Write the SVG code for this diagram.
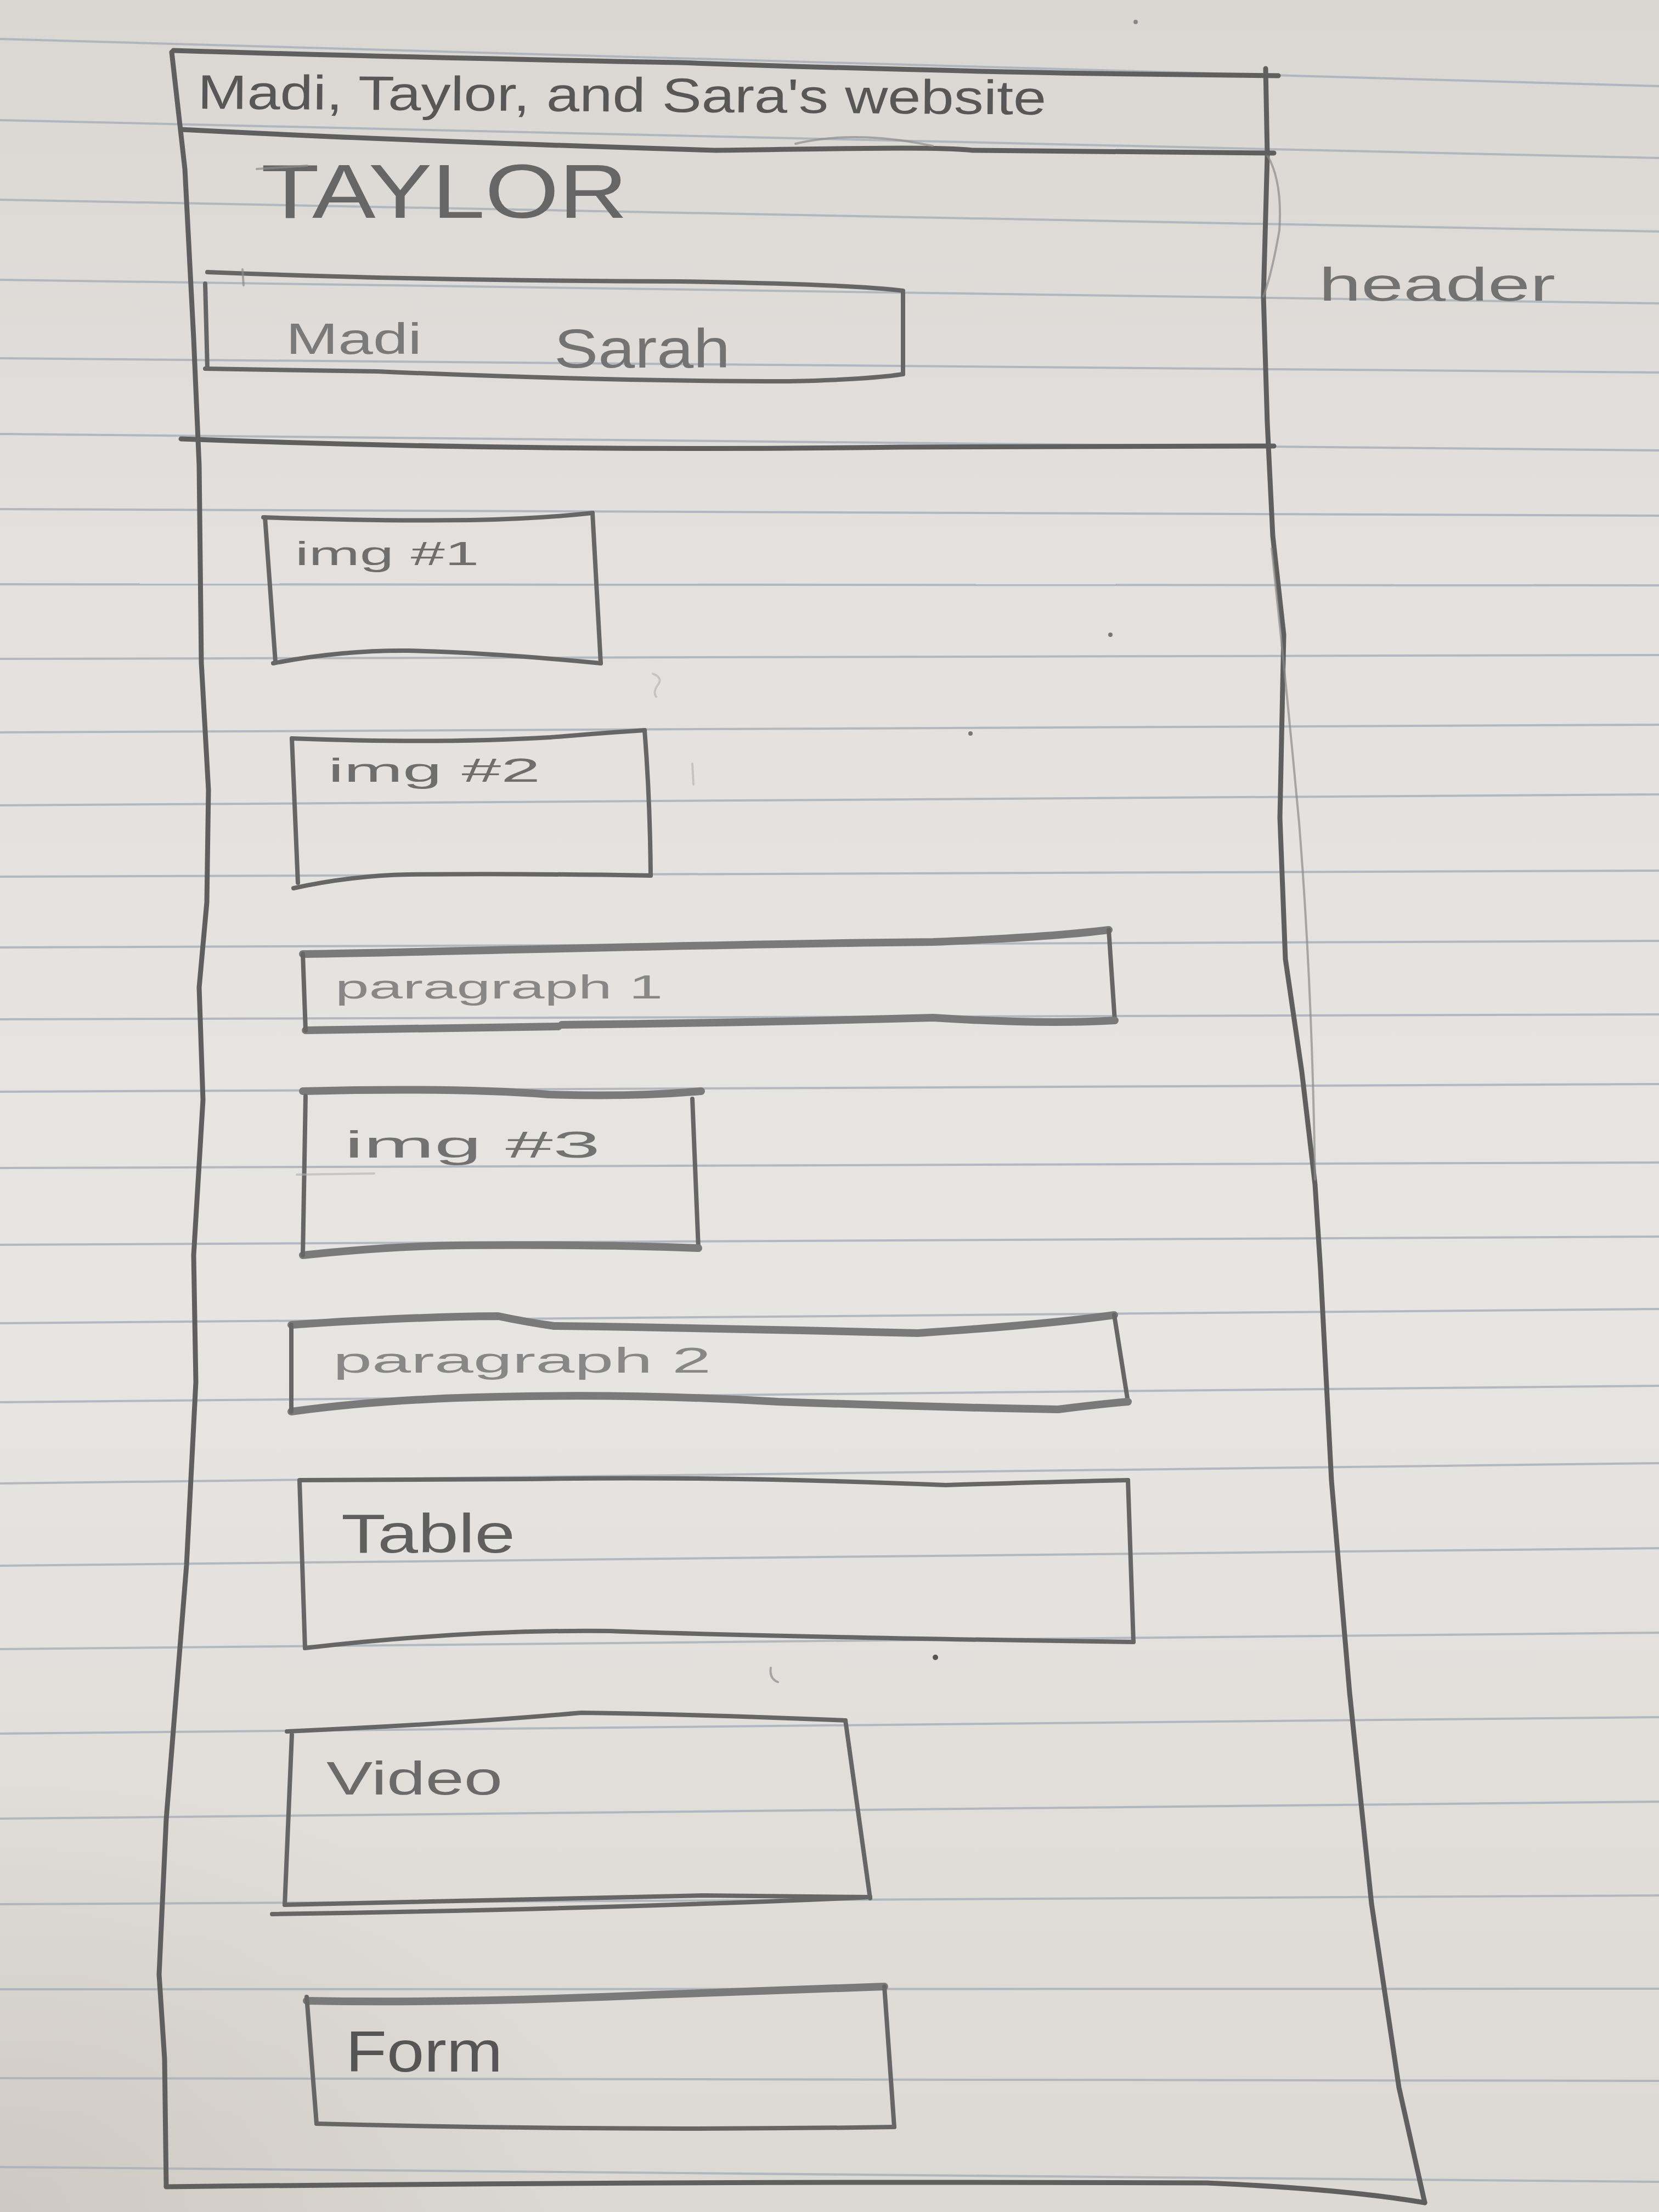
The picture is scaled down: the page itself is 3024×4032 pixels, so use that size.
<svg xmlns="http://www.w3.org/2000/svg" width="3024" height="4032" viewBox="0 0 3024 4032">
  <defs>
    <linearGradient id="paperShade" x1="0" y1="0" x2="0" y2="1">
      <stop offset="0" stop-color="#dad6d2"/>
      <stop offset="0.25" stop-color="#e3e0dd"/>
      <stop offset="0.6" stop-color="#e7e5e2"/>
      <stop offset="1" stop-color="#dcd8d3"/>
    </linearGradient>
    <radialGradient id="cornerShadow" cx="0" cy="1" r="0.5">
      <stop offset="0" stop-color="#bdb6ae" stop-opacity="0.45"/>
      <stop offset="1" stop-color="#bdb6ae" stop-opacity="0"/>
    </radialGradient>
    <style>
      .rule { stroke: #a8b0bb; stroke-width: 4; fill: none; opacity: 0.85; }
      .pen { fill: none; stroke: #666; stroke-width: 8; stroke-linecap: round; stroke-linejoin: round; }
      .frame { stroke: #5f5f5f; stroke-width: 9; }
      .heavy { stroke: #7a7a7a; stroke-width: 14; }
      .light { stroke: #8c8c8c; stroke-width: 4; opacity: 0.7; }
      .faint { stroke: #b3b0ad; stroke-width: 4; opacity: 0.6; }
      .hand { font-family: "Liberation Sans", "DejaVu Sans", sans-serif; }
    </style>
  </defs>

  <!-- lined notebook paper -->
  <g id="paper">
    <rect x="0" y="0" width="3024" height="4032" fill="url(#paperShade)"/>
    <rect x="0" y="2400" width="2200" height="1632" fill="url(#cornerShadow)"/>
    <g id="ruled-lines">
      <line class="rule" x1="0" y1="71" x2="3024" y2="157"/>
      <line class="rule" x1="0" y1="219" x2="3024" y2="288"/>
      <line class="rule" x1="0" y1="364" x2="3024" y2="422"/>
      <line class="rule" x1="0" y1="510" x2="3024" y2="553"/>
      <line class="rule" x1="0" y1="653" x2="3024" y2="679"/>
      <line class="rule" x1="0" y1="791" x2="3024" y2="821"/>
      <line class="rule" x1="0" y1="928" x2="3024" y2="940"/>
      <line class="rule" x1="0" y1="1065" x2="3024" y2="1067"/>
      <line class="rule" x1="0" y1="1201" x2="3024" y2="1194"/>
      <line class="rule" x1="0" y1="1335" x2="3024" y2="1321"/>
      <line class="rule" x1="0" y1="1468" x2="3024" y2="1448"/>
      <line class="rule" x1="0" y1="1598" x2="3024" y2="1587"/>
      <line class="rule" x1="0" y1="1727" x2="3024" y2="1715"/>
      <line class="rule" x1="0" y1="1858" x2="3024" y2="1849"/>
      <line class="rule" x1="0" y1="1990" x2="3024" y2="1976"/>
      <line class="rule" x1="0" y1="2129" x2="3024" y2="2119"/>
      <line class="rule" x1="0" y1="2269" x2="3024" y2="2254"/>
      <line class="rule" x1="0" y1="2412" x2="3024" y2="2386"/>
      <line class="rule" x1="0" y1="2556" x2="3024" y2="2526"/>
      <line class="rule" x1="0" y1="2704" x2="3024" y2="2667"/>
      <line class="rule" x1="0" y1="2854" x2="3024" y2="2822"/>
      <line class="rule" x1="0" y1="3006" x2="3024" y2="2976"/>
      <line class="rule" x1="0" y1="3160" x2="3024" y2="3130"/>
      <line class="rule" x1="0" y1="3315" x2="3024" y2="3284"/>
      <line class="rule" x1="0" y1="3471" x2="3024" y2="3455"/>
      <line class="rule" x1="0" y1="3626" x2="3024" y2="3625"/>
      <line class="rule" x1="0" y1="3788" x2="3024" y2="3793"/>
      <line class="rule" x1="0" y1="3950" x2="3024" y2="3977"/>
    </g>
  </g>

  <!-- outer page outline -->
  <g id="page-frame">
    <path class="pen frame" d="M316,92 Q 700,104 1237,114 Q 1640,128 2000,134 L 2330,138"/>
    <polyline class="pen frame" points="313,95 337,308 353,617 363,848 367,1208 380,1440 377,1645 363,1800 370,2005 353,2288 357,2519 340,2853 303,3316 290,3599 300,3753 303,3985"/>
    <polyline class="pen frame" points="2307,125 2310,283 2303,540 2310,771 2320,977 2340,1157 2333,1491 2343,1748 2373,1954 2397,2159 2407,2314 2427,2699 2460,3085 2500,3470 2550,3805 2597,4015"/>
    <path class="pen light" d="M2310,283 Q 2338,330 2332,420 Q 2318,500 2303,540"/>
    <path class="pen light" d="M2318,1000 Q 2345,1250 2368,1500 Q 2392,1800 2397,2150"/>
    <path class="pen frame" d="M303,3986 Q 1300,3975 2200,3979 Q 2450,3990 2597,4015"/>
  </g>

  <!-- title bar -->
  <g id="title-bar">
    <path class="pen frame" d="M330,236 C 600,250 900,262 1304,274 C 1500,272 1700,266 1773,274 L 2322,279"/>
    <path class="pen light" d="M1450,262 Q 1560,236 1700,266"/>
    <text class="hand" x="360" y="198" font-size="88" fill="#575757" textLength="1547" lengthAdjust="spacingAndGlyphs" transform="rotate(0.4 360 198)">Madi, Taylor, and Sara's website</text>
  </g>

  <!-- header block: name + nav -->
  <g id="header">
    <text class="hand" x="476" y="397" font-size="140" fill="#666" textLength="668" lengthAdjust="spacingAndGlyphs">TAYLOR</text>
    <path class="pen light" d="M468,308 L 560,302"/>
    <path class="pen frame" d="M330,800 Q 970,824 1639,815 L 2322,813"/>
  </g>

  <g id="nav">
    <path class="pen" d="M378,496 C 600,505 900,512 1237,513 Q 1550,518 1646,530"/>
    <path class="pen" d="M374,517 L 378,672"/>
    <path class="pen" d="M1646,534 L 1646,680"/>
    <path class="pen" d="M374,672 L 688,677 Q 1100,695 1438,695 Q 1580,692 1646,682"/>
    <path class="pen light" d="M442,491 L 444,520"/>
    <text class="hand" x="521" y="645" font-size="80" fill="#7a7a7a" textLength="248" lengthAdjust="spacingAndGlyphs">Madi</text>
    <text class="hand" x="1010" y="670" font-size="100" fill="#737373" textLength="321" lengthAdjust="spacingAndGlyphs">Sarah</text>
  </g>

  <g id="header-note">
    <text class="hand" x="2404" y="548" font-size="85" fill="#727272" textLength="431" lengthAdjust="spacingAndGlyphs">header</text>
  </g>

  <!-- content blocks -->
  <g id="img1">
    <path class="pen" d="M480,943 Q 687,950 859,948 Q 980,946 1080,935"/>
    <path class="pen" d="M1080,935 L 1095,1209"/>
    <path class="pen" d="M498,1209 Q 620,1185 744,1186 Q 900,1190 1095,1209"/>
    <path class="pen" d="M483,943 L 502,1206"/>
    <text class="hand" x="538" y="1030" font-size="62" fill="#6e6e6e" textLength="335" lengthAdjust="spacingAndGlyphs">img #1</text>
  </g>

  <g id="img2">
    <path class="pen" d="M532,1346 Q 802,1356 1003,1344 Q 1100,1336 1175,1331"/>
    <path class="pen" d="M1175,1331 Q 1185,1460 1186,1596"/>
    <path class="pen" d="M535,1619 Q 640,1596 744,1594 Q 950,1592 1186,1596"/>
    <path class="pen" d="M532,1346 L 543,1609"/>
    <text class="hand" x="598" y="1425" font-size="62" fill="#6e6e6e" textLength="387" lengthAdjust="spacingAndGlyphs">img #2</text>
  </g>

  <g id="paragraph1">
    <path class="pen heavy" d="M552,1739 C 834,1735 1268,1721 1701,1717 Q 1918,1708 2021,1695"/>
    <path class="pen" d="M2021,1695 L 2032,1860"/>
    <path class="pen heavy" d="M557,1878 L 1018,1871 M1024,1868 Q 1376,1864 1701,1855 Q 1900,1868 2032,1860"/>
    <path class="pen" d="M552,1739 L 557,1878"/>
    <text class="hand" x="611" y="1820" font-size="62" fill="#878787" textLength="597" lengthAdjust="spacingAndGlyphs">paragraph 1</text>
  </g>

  <g id="img3">
    <path class="pen heavy" d="M552,1989 Q 834,1982 1000,1995 Q 1150,2000 1278,1989"/>
    <path class="pen" d="M1262,2003 L 1273,2275"/>
    <path class="pen heavy" d="M552,2288 Q 700,2272 834,2270 Q 1100,2268 1273,2275"/>
    <path class="pen" d="M557,1998 L 552,2288"/>
    <path class="pen faint" d="M541,2141 L 682,2139"/>
    <text class="hand" x="628" y="2110" font-size="68" fill="#727272" textLength="466" lengthAdjust="spacingAndGlyphs">img #3</text>
  </g>

  <g id="paragraph2">
    <path class="pen heavy" d="M531,2415 Q 750,2400 908,2399 Q 960,2410 1010,2417 Q 1316,2421 1673,2430 Q 1900,2415 2031,2397"/>
    <path class="pen" d="M2031,2397 L 2056,2555"/>
    <path class="pen heavy" d="M531,2573 Q 700,2550 908,2546 Q 1163,2540 1418,2555 Q 1700,2565 1929,2569 Q 2000,2560 2056,2555"/>
    <path class="pen" d="M531,2415 L 531,2573"/>
    <text class="hand" x="607" y="2502" font-size="64" fill="#878787" textLength="689" lengthAdjust="spacingAndGlyphs">paragraph 2</text>
  </g>

  <g id="table">
    <path class="pen" d="M546,2698 L 959,2696 Q 1316,2690 1724,2707 Q 1950,2700 2056,2698"/>
    <path class="pen" d="M2056,2698 L 2066,2993"/>
    <path class="pen" d="M556,3004 Q 850,2970 1112,2973 Q 1418,2984 2066,2993"/>
    <path class="pen" d="M546,2700 L 556,3004"/>
    <text class="hand" x="622" y="2830" font-size="100" fill="#5f5f5f" textLength="317" lengthAdjust="spacingAndGlyphs">Table</text>
  </g>

  <g id="video">
    <path class="pen" d="M523,3156 Q 836,3142 1059,3122 Q 1282,3125 1541,3136"/>
    <path class="pen" d="M1541,3136 L 1586,3460"/>
    <path class="pen" d="M519,3472 Q 925,3463 1282,3455 L 1586,3458"/>
    <path class="pen" d="M496,3489 Q 1104,3480 1586,3458"/>
    <path class="pen" d="M532,3162 L 519,3472"/>
    <text class="hand" x="595" y="3271" font-size="85" fill="#6a6a6a" textLength="321" lengthAdjust="spacingAndGlyphs">Video</text>
  </g>

  <g id="form">
    <path class="pen heavy" d="M559,3647 Q 836,3652 1193,3636 L 1612,3621"/>
    <path class="pen" d="M1612,3621 L 1630,3877"/>
    <path class="pen" d="M577,3871 Q 1104,3885 1630,3877"/>
    <path class="pen" d="M559,3640 L 577,3871"/>
    <text class="hand" x="630" y="3776" font-size="105" fill="#555" textLength="286" lengthAdjust="spacingAndGlyphs">Form</text>
  </g>

  <!-- stray pencil marks on the sheet -->
  <g id="marks">
    <circle cx="1705" cy="3021" r="5" fill="#555"/>
    <path class="pen light" d="M1405,3040 Q 1402,3060 1418,3066"/>
    <circle cx="2024" cy="1157" r="4" fill="#777"/>
    <circle cx="1769" cy="1337" r="4" fill="#777"/>
    <path class="pen faint" d="M1262,1392 L 1264,1430"/>
    <path class="pen faint" d="M1190,1228 Q 1210,1236 1198,1250 Q 1190,1262 1196,1270"/>
    <circle cx="2070" cy="40" r="4" fill="#888"/>
  </g>
</svg>
